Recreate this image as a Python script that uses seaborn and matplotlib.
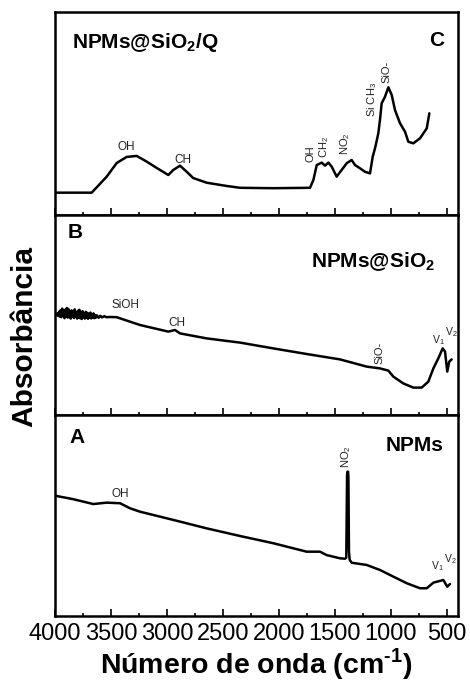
import numpy as np
import pandas as pd
import matplotlib
matplotlib.use("Agg")
import matplotlib.pyplot as plt
from matplotlib.ticker import MultipleLocator
import seaborn as sns

# espectros FTIR (número de onda em cm-1, absorbância em u.a.)
wn_c = [3985, 3672, 3538, 3449, 3360, 3270, 3181, 3092, 2988, 2943, 2883, 2824,
        2765, 2645, 2466, 2347, 2050, 1722, 1692, 1662, 1617, 1588, 1558, 1528,
        1484, 1439, 1394, 1350, 1320, 1275, 1231, 1186, 1162, 1141, 1112, 1097,
        1082, 1052, 1022, 992, 963, 918, 873, 844, 799, 739, 679, 656]
abs_c = [0.110, 0.110, 0.189, 0.256, 0.286, 0.291, 0.263, 0.232, 0.197, 0.222,
         0.243, 0.213, 0.182, 0.159, 0.143, 0.134, 0.132, 0.134, 0.172, 0.246,
         0.258, 0.243, 0.258, 0.238, 0.189, 0.222, 0.255, 0.271, 0.246, 0.230,
         0.213, 0.205, 0.287, 0.329, 0.402, 0.468, 0.550, 0.583, 0.629, 0.591,
         0.517, 0.452, 0.410, 0.361, 0.353, 0.378, 0.427, 0.501]

wn_b = [3985, 3978, 3971, 3964, 3957, 3950, 3943, 3936, 3929, 3922, 3915, 3908,
        3901, 3894, 3887, 3880, 3873, 3866, 3859, 3852, 3845, 3838, 3831, 3824,
        3817, 3810, 3803, 3796, 3789, 3782, 3775, 3768, 3761, 3754, 3747, 3740,
        3733, 3726, 3719, 3712, 3705, 3698, 3691, 3684, 3677, 3670, 3663, 3656,
        3649, 3642, 3635, 3625, 3610, 3595, 3580, 3560, 3540, 3509,
        3449, 3241, 2988, 2928, 2883, 2645, 2347, 2050, 1752, 1454, 1216, 1097,
        1022, 978, 889, 799, 724, 665, 620, 576, 537, 516, 496, 478, 457]
abs_b = [0.500, 0.508, 0.495, 0.516, 0.492, 0.524, 0.489, 0.532, 0.498, 0.520,
         0.484, 0.527, 0.494, 0.535, 0.487, 0.530, 0.490, 0.515, 0.482, 0.523,
         0.493, 0.518, 0.485, 0.528, 0.491, 0.512, 0.482, 0.521, 0.488, 0.526,
         0.484, 0.514, 0.480, 0.519, 0.489, 0.508, 0.482, 0.516, 0.486, 0.511,
         0.481, 0.506, 0.487, 0.512, 0.483, 0.503, 0.486, 0.508, 0.484, 0.500,
         0.487, 0.498, 0.486, 0.496, 0.488, 0.494, 0.489, 0.490,
         0.489, 0.450, 0.417, 0.425, 0.408, 0.383, 0.362, 0.333, 0.305, 0.278,
         0.242, 0.233, 0.222, 0.192, 0.158, 0.137, 0.137, 0.167, 0.233, 0.283,
         0.333, 0.317, 0.217, 0.267, 0.278]

wn_a = [3985, 3836, 3658, 3538, 3419, 3330, 3241, 2943, 2645, 2347, 2050, 1752,
        1633, 1573, 1454, 1409, 1398, 1391, 1388, 1382, 1379, 1374, 1368, 1350,
        1216, 1097, 978, 858, 739, 679, 620, 531, 496, 471]
abs_a = [0.597, 0.581, 0.557, 0.564, 0.561, 0.536, 0.519, 0.478, 0.436, 0.398,
         0.362, 0.320, 0.320, 0.303, 0.287, 0.285, 0.290, 0.700, 0.718, 0.718,
         0.690, 0.320, 0.280, 0.265, 0.254, 0.229, 0.196, 0.163, 0.138, 0.138,
         0.166, 0.179, 0.146, 0.159]

sns.set_style("ticks")
plt.rcParams['font.family'] = ['Liberation Sans', 'DejaVu Sans']
plt.rcParams['mathtext.fontset'] = 'custom'
plt.rcParams['mathtext.rm'] = 'Liberation Sans'
plt.rcParams['mathtext.bf'] = 'Liberation Sans:bold'
plt.rcParams['text.color'] = 'black'
plt.rcParams['axes.labelcolor'] = 'black'
plt.rcParams['xtick.color'] = 'black'

fig = plt.figure(figsize=(4.70, 6.81), dpi=100)
L, W = 55 / 470, 403 / 470
ax_c = fig.add_axes([L, 466 / 681, W, 203 / 681])
ax_b = fig.add_axes([L, 266 / 681, W, 200 / 681])
ax_a = fig.add_axes([L, 65 / 681, W, 201 / 681])

spectra = [(ax_c, wn_c, abs_c), (ax_b, wn_b, abs_b), (ax_a, wn_a, abs_a)]
for ax, wn, ab in spectra:
    df = pd.DataFrame({'wn': wn, 'abs': ab})
    sns.lineplot(data=df, x='wn', y='abs', ax=ax, color='black', lw=1.8,
                 sort=False, estimator=None)
    ax.set_xlim(4000, 400)
    ax.set_ylim(0, 1)
    ax.set_yticks([])
    ax.set_xlabel('')
    ax.set_ylabel('')
    ax.xaxis.set_major_locator(MultipleLocator(500))
    ax.xaxis.set_minor_locator(MultipleLocator(250))
    ax.tick_params(axis='x', which='major', direction='in', length=5, width=1.2,
                   labelsize=17, pad=5)
    ax.tick_params(axis='x', which='minor', direction='in', length=2.5, width=1.2)
    for s in ax.spines.values():
        s.set_linewidth(1.8)
        s.set_color('black')

ax_c.tick_params(axis='x', labelbottom=False)
ax_b.tick_params(axis='x', labelbottom=False)

big = dict(fontsize=15, fontweight='bold', va='center')
ann = dict(fontsize=8.5, color='#222222', ha='center', va='center')
annr = dict(fontsize=8, color='#222222', ha='center', va='center', rotation=90)
annv = dict(fontsize=7.5, color='#222222', ha='center', va='center')

# painel C
ax_c.text(0.042, 0.852, 'NPMs@SiO$_\\mathbf{2}$/Q', transform=ax_c.transAxes, ha='left', **big)
ax_c.text(0.948, 0.862, 'C', transform=ax_c.transAxes, ha='center', **big)
ax_c.text(3366, 0.336, 'OH', **ann)
ax_c.text(2854, 0.271, 'CH', **ann)
ax_c.text(1722, 0.304, 'OH', **annr)
ax_c.text(1595, 0.335, 'CH$_2$', **annr)
ax_c.text(1409, 0.350, 'NO$_2$', **annr)
ax_c.text(1171, 0.567, 'Si CH$_3$', **annr)
ax_c.text(1037, 0.705, 'SiO-', **annr)

# painel B
ax_b.text(0.032, 0.915, 'B', transform=ax_b.transAxes, ha='left', **big)
ax_b.text(0.943, 0.765, 'NPMs@SiO$_\\mathbf{2}$', transform=ax_b.transAxes, ha='right', **big)
ax_b.text(3375, 0.550, 'SiOH', **ann)
ax_b.text(2913, 0.460, 'CH', **ann)
ax_b.text(1097, 0.310, 'SiO-', **annr)
ax_b.text(575, 0.375, 'V$_1$', **annv)
ax_b.text(460, 0.415, 'V$_2$', **annv)

# painel A
ax_a.text(0.037, 0.890, 'A', transform=ax_a.transAxes, ha='left', **big)
ax_a.text(0.963, 0.850, 'NPMs', transform=ax_a.transAxes, ha='right', **big)
ax_a.text(3413, 0.605, 'OH', **ann)
ax_a.text(1400, 0.795, 'NO$_2$', **annr)
ax_a.text(585, 0.250, 'V$_1$', **annv)
ax_a.text(465, 0.285, 'V$_2$', **annv)

ax_a.set_xlabel('Número de onda (cm$^{\\mathbf{‐1}}$)', fontsize=20.5, fontweight='bold', labelpad=1)
fig.text(24 / 470, 1 - 336 / 681, 'Absorbância', rotation=90, fontsize=21.5,
         fontweight='bold', ha='center', va='center')

fig.savefig('out.png', dpi=100)
